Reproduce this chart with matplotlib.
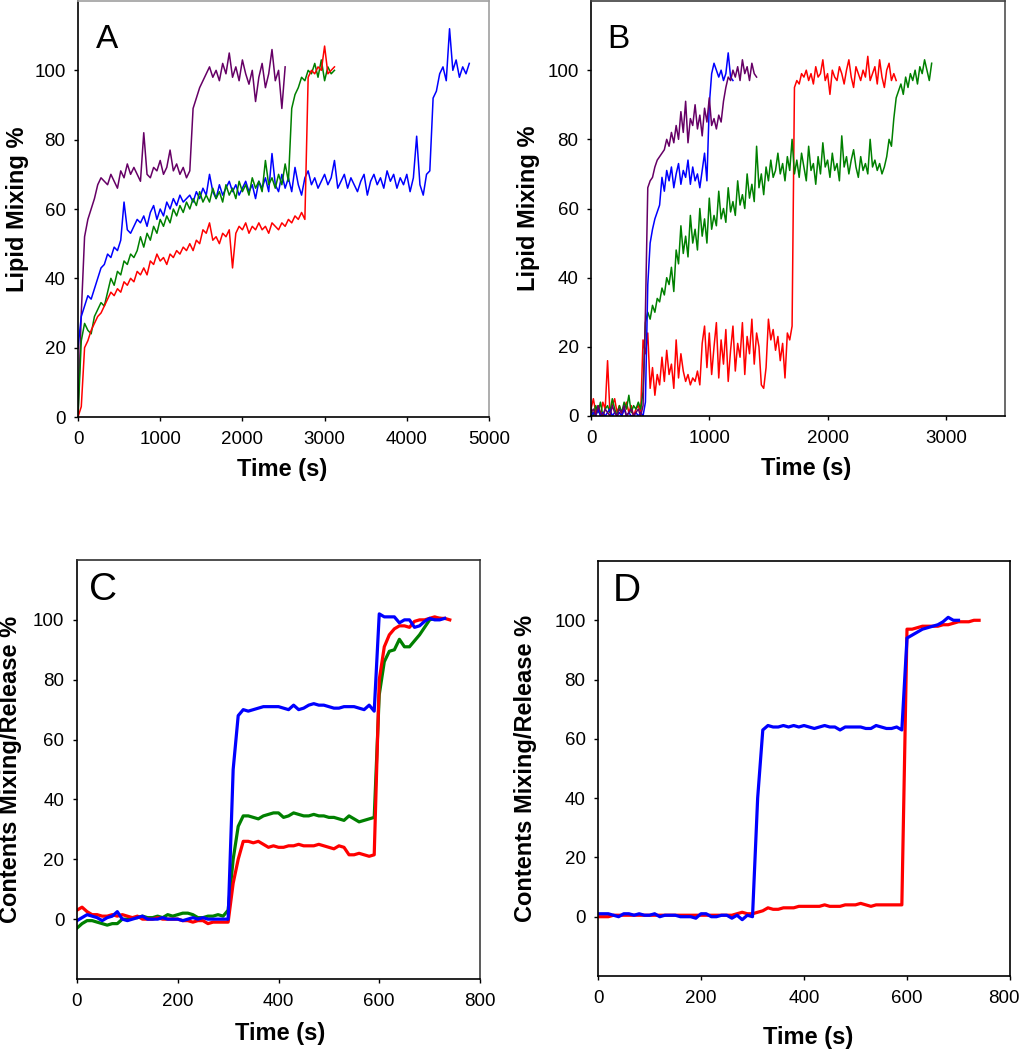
import numpy as np
import matplotlib
matplotlib.use("Agg")
from matplotlib import pyplot as plt
from matplotlib import transforms

#==================== DATA ====================
# panel A: lipid mixing, sampled every 40 s
dtA = 40
a_blue = [20, 29, 32, 35, 34, 37, 40, 43, 44, 47,
          46, 49, 48, 51, 62, 54, 53, 55, 57, 56,
          58, 55, 59, 61, 57, 60, 58, 62, 60, 63,
          61, 64, 62, 63, 64, 62, 65, 63, 66, 64,
          70, 65, 63, 67, 64, 66, 68, 65, 67, 64,
          66, 68, 65, 67, 63, 68, 66, 69, 65, 76,
          67, 65, 70, 66, 69, 65, 72, 67, 64, 69,
          71, 67, 69, 66, 68, 70, 67, 69, 74, 66,
          68, 70, 66, 69, 67, 65, 68, 70, 64, 68,
          70, 67, 69, 66, 71, 68, 70, 66, 69, 67,
          70, 65, 69, 81, 67, 64, 70, 71, 92, 94,
          99, 101, 97, 112, 100, 103, 98, 101, 99, 102]
a_green = [0, 22, 27, 25, 24, 29, 31, 33, 32, 36,
           40, 38, 42, 41, 45, 44, 47, 46, 48, 52,
           49, 53, 51, 55, 53, 57, 55, 58, 56, 60,
           58, 61, 59, 62, 60, 63, 61, 65, 62, 64,
           62, 66, 63, 65, 62, 67, 64, 66, 63, 68,
           65, 67, 64, 69, 66, 68, 65, 74, 67, 69,
           66, 70, 67, 73, 68, 89, 93, 95, 98, 97,
           100, 99, 102, 98, 103, 97, 101, 99, 100]
a_red = [0, 3, 20, 22, 25, 27, 29, 30, 32, 34,
         36, 35, 37, 36, 39, 38, 40, 39, 42, 41,
         43, 41, 45, 44, 47, 45, 46, 44, 47, 46,
         48, 47, 49, 48, 50, 48, 51, 50, 54, 53,
         56, 51, 52, 50, 53, 52, 54, 43, 53, 55,
         54, 56, 53, 55, 54, 56, 54, 55, 53, 56,
         55, 54, 56, 55, 57, 56, 58, 57, 59, 57,
         98, 100, 99, 101, 100, 107, 99, 100, 101]
a_purple = [0, 30, 52, 57, 60, 63, 67, 69, 68, 67,
            70, 68, 66, 71, 69, 73, 70, 72, 70, 68,
            82, 70, 69, 72, 71, 74, 70, 72, 77, 71,
            73, 70, 72, 69, 71, 89, 92, 95, 97, 99,
            101, 98, 100, 97, 102, 99, 105, 98, 101, 97,
            103, 99, 96, 100, 91, 98, 102, 95, 99, 106,
            97, 100, 89, 101]

# panel B: lipid mixing, sampled every 20 s
dtB = 20
b_purple = [1, 2, 0, 3, 1, 0, 2, 1, 0, 3,
            1, 0, 2, 1, 3, 0, 1, 2, 0, 1,
            2, 0, 3, 30, 66, 68, 69, 72, 74, 75,
            76, 77, 80, 78, 82, 79, 84, 80, 88, 82,
            91, 79, 86, 84, 90, 83, 87, 81, 89, 85,
            92, 84, 86, 83, 87, 85, 91, 95, 98, 97,
            100, 98, 101, 97, 103, 99, 101, 97, 102, 99,
            98]
b_blue = [0, 1, 0, 2, 0, 1, 0, 1, 2, 0,
          1, 0, 1, 0, 2, 0, 1, 0, 0, 1,
          0, 1, 0, 4, 38, 50, 54, 57, 59, 61,
          69, 65, 71, 68, 72, 66, 70, 73, 67, 71,
          69, 74, 67, 72, 68, 70, 66, 71, 76, 68,
          90, 99, 102, 100, 98, 100, 97, 99, 105, 98,
          97]
b_green = [2, 0, 3, 1, 4, 0, 2, 3, 1, 5,
           2, 0, 3, 1, 4, 2, 6, 1, 3, 2,
           4, 2, 7, 27, 30, 28, 32, 30, 34, 33,
           37, 35, 40, 38, 43, 36, 48, 44, 55, 47,
           52, 46, 58, 50, 54, 48, 60, 52, 57, 50,
           63, 54, 58, 55, 65, 57, 60, 56, 66, 59,
           62, 58, 68, 61, 64, 60, 70, 63, 67, 62,
           78, 66, 70, 64, 72, 68, 74, 69, 71, 76,
           70, 73, 68, 75, 71, 80, 70, 74, 69, 76,
           72, 68, 78, 71, 73, 67, 75, 70, 79, 72,
           74, 69, 76, 71, 73, 68, 81, 72, 75, 70,
           74, 77, 72, 69, 75, 71, 73, 70, 80, 72,
           74, 71, 73, 70, 72, 75, 80, 78, 86, 92,
           94, 96, 93, 98, 95, 99, 97, 100, 96, 101,
           99, 103, 100, 97, 102]
b_red = [2, 5, 1, 3, 0, 4, 2, 16, 1, 3,
         5, 1, 3, 0, 2, 4, 1, 3, 0, 2,
         3, 1, 22, 18, 24, 8, 14, 6, 12, 9,
         17, 10, 19, 12, 15, 8, 22, 11, 18, 13,
         10, 12, 9, 11, 10, 13, 9, 21, 26, 14,
         24, 12, 20, 27, 11, 22, 15, 25, 10, 19,
         26, 13, 21, 17, 27, 12, 23, 18, 28, 15,
         24, 20, 9, 8, 14, 28, 22, 25, 19, 23,
         16, 21, 11, 24, 22, 26, 95, 97, 96, 99,
         98, 100, 97, 99, 96, 101, 98, 99, 103, 97,
         99, 93, 100, 98, 97, 101, 99, 96, 100, 103,
         98, 95, 101, 99, 97, 100, 98, 104, 97, 99,
         101, 96, 103, 98, 95, 100, 102, 97, 99, 97]

# panels C and D: contents mixing / release, sampled every 10 s
dtC = 10
c_red = [3, 4, 2.5, 1.5, 1.5, 1, 1, 1.5, 1, 1.5,
         1, 0.5, 1, 0, 0, 0, 0.5, 0, 0, 0,
         0, -0.5, -0.5, -1, -0.5, -0.5, -1.5, -1, -1, -1,
         -1, 12, 20, 26, 26, 25.5, 26, 25, 24, 24.5,
         24, 24, 24.5, 24.5, 25, 24.5, 24.5, 24.5, 25, 24.5,
         24, 23.5, 24.5, 24, 21.5, 21.5, 22, 21.5, 21, 21.5,
         80, 91, 95, 97, 98, 98, 97.5, 99.5, 100, 100,
         100.5, 101, 100.5, 100.5, 100]
c_green = [-3, -1.5, -0.5, -0.5, -1, -1.5, -2, -1.5, -1.5, 0,
           0, 0.5, 0.5, 1, 0.5, 0.5, 1, 0.5, 1.5, 1,
           1.5, 2, 2, 1.5, 0.5, 0.5, 1, 1, 1.5, 1,
           3, 20, 31, 34.5, 34.5, 34, 33.5, 34.5, 35, 35.5,
           35.5, 34, 34.5, 35.5, 35, 34.5, 34.5, 35, 34.5, 34.5,
           34, 34, 33.5, 33, 34.5, 33.5, 32.5, 33, 33.5, 34,
           75, 86, 89.5, 90, 93.5, 91, 91, 93, 95, 97.5,
           100, 100.5, 100.5]
c_blue = [-0.5, 0.5, 1.5, 1, 0.5, -0.5, 0.5, 1, 2.5, 0,
          -0.5, 0, 0.5, 1, 0, 0, 0, 0.5, 0, 0,
          0, -0.5, 0, 0.5, 0, 0.5, 0, 0, 0, 0,
          0, 50, 68, 70, 69.5, 70, 70.5, 71, 71, 71,
          71, 70.5, 70, 71.5, 70, 70.5, 71.5, 72, 71.5, 71.5,
          71, 70.5, 70.5, 71, 71, 71, 70.5, 70, 71.5, 69.5,
          102, 101, 101, 101, 99, 100, 100, 97.5, 98, 99.5,
          100.5, 100, 100, 100.5]
d_red = [0, 0, 0, 0.5, 0.5, 0.5, 0.5, 0.5, 0.5, 0.5,
         0.5, 0.5, 0.5, 0.5, 0.5, 0.5, 0.5, 0.5, 0.5, 0.5,
         0.5, 0.5, 0.5, 0.5, 0.5, 0.5, 0.5, 1, 1.5, 1,
         1, 1.5, 2, 3, 2.5, 2.5, 3, 3, 3, 3.5,
         3.5, 3.5, 3.5, 3.5, 4, 3.5, 3.5, 3.5, 4, 4,
         4, 4.5, 4, 3.5, 4, 4, 4, 4, 4, 4,
         97, 97, 97.5, 98, 98, 98, 98, 98.5, 98.5, 99,
         99.5, 99.5, 99.5, 100, 100]
d_blue = [1, 1, 1, 0.5, 0, 1, 1, 0.5, 1, 0.5,
          0.5, 1, 0, 0.5, 0.5, 0.5, 0, 0, 0, -0.5,
          1, 1, 0, 0, 0.5, 0.5, -0.5, 0.5, -1, 0.5,
          0, 40, 63, 64.5, 64, 64, 64.5, 64, 64.5, 64,
          64.5, 64, 63.5, 64, 64.5, 64, 64, 63, 64, 64,
          64, 64, 63.5, 63.5, 64.5, 64, 63.5, 63.5, 64, 63,
          94, 95, 96, 97, 97.5, 98, 98.5, 99.5, 101, 100,
          100]

RED = "#ff0000"
GREEN = "#008000"
BLUE = "#0000ff"
PURPLE = "#660066"

def times(vals, dt):
    return np.arange(len(vals)) * dt

#==================== FIGURE ====================
plt.rcParams['font.family'] = ['Liberation Sans', 'DejaVu Sans']
fig = plt.figure(figsize=(10.22, 10.5), dpi=100)
W, H = 1022.0, 1050.0

def make_ax(l, t, r, b):
    return fig.add_axes([l / W, 1 - b / H, (r - l) / W, (b - t) / H])

axA = make_ax(78, 1, 489, 417)
axB = make_ax(591, 1, 1005, 416)
axC = make_ax(77, 560, 480, 979)
axD = make_ax(598, 561, 1010, 976)

# panel A
axA.plot(times(a_purple, dtA), a_purple, color=PURPLE, lw=1.1)
axA.plot(times(a_blue, dtA), a_blue, color=BLUE, lw=1.1)
axA.plot(times(a_green, dtA), a_green, color=GREEN, lw=1.1)
axA.plot(times(a_red, dtA), a_red, color=RED, lw=1.1)
axA.set_xlim(0, 5000)
axA.set_ylim(0, 120)
axA.set_xticks([0, 1000, 2000, 3000, 4000, 5000])

# panel B
axB.plot(times(b_red, dtB), b_red, color=RED, lw=1.1)
axB.plot(times(b_green, dtB), b_green, color=GREEN, lw=1.1)
axB.plot(times(b_blue, dtB), b_blue, color=BLUE, lw=1.1)
axB.plot(times(b_purple, dtB), b_purple, color=PURPLE, lw=1.1)
axB.set_xlim(0, 3500)
axB.set_ylim(0, 120)
axB.set_xticks([0, 1000, 2000, 3000])

# panel C
axC.plot(times(c_green, dtC), c_green, color=GREEN, lw=2.3)
axC.plot(times(c_red, dtC), c_red, color=RED, lw=2.3)
axC.plot(times(c_blue, dtC), c_blue, color=BLUE, lw=2.3)
axC.set_xlim(0, 800)
axC.set_ylim(-20, 120)

# panel D
axD.plot(times(d_red, dtC), d_red, color=RED, lw=2.3)
axD.plot(times(d_blue, dtC), d_blue, color=BLUE, lw=2.3)
axD.set_xlim(0, 800)
axD.set_ylim(-20, 120)

for ax in (axC, axD):
    ax.set_xticks([0, 200, 400, 600, 800])

for ax in (axA, axB, axC, axD):
    ax.set_yticks([0, 20, 40, 60, 80, 100])
    ax.tick_params(axis='both', direction='out', length=3, width=1, labelsize=13.5)
    ax.tick_params(axis='y', pad=6)
    ax.tick_params(axis='x', pad=7)
    ax.set_xlabel("Time (s)", fontsize=17, fontweight='bold')
    for s in ax.spines.values():
        s.set_linewidth(1.2)

axA.set_ylabel("Lipid Mixing %", fontsize=17, fontweight='bold')
axB.set_ylabel("Lipid Mixing %", fontsize=17, fontweight='bold')
axC.set_ylabel("Contents Mixing/Release %", fontsize=17, fontweight='bold')
axD.set_ylabel("Contents Mixing/Release %", fontsize=17, fontweight='bold')

# spine shades
axA.spines['top'].set_color('#a0a0a0')
axA.spines['right'].set_color('#a0a0a0')
axB.spines['top'].set_color('#404040')
axB.spines['right'].set_color('#505050')
axC.spines['top'].set_color('#303030')
axC.spines['right'].set_color('#404040')

# label positions (axes coords)
lab = {axA: (-0.148, 0.496, -0.127), axB: (-0.152, 0.52, -0.127),
       axC: (-0.166, 0.504, -0.129), axD: (-0.175, 0.51, -0.147)}
for ax, (yx, xx, xy) in lab.items():
    ax.yaxis.set_label_coords(yx, 0.5)
    ax.yaxis.label.set_va('center')
    ax.xaxis.set_label_coords(xx, xy)
    ax.xaxis.label.set_va('center')

# last tick label of D sits a bit left of its tick (keeps it inside the figure)
fig.canvas.draw()
lastD = axD.get_xticklabels()[-1]
lastD.set_transform(lastD.get_transform() + transforms.ScaledTranslation(-6 / 100, 0, fig.dpi_scale_trans))

# panel letters
fig.text(96 / W, 1 - 48 / H, "A", fontsize=24, va='baseline', ha='left')
fig.text(607 / W, 1 - 48 / H, "B", fontsize=24, va='baseline', ha='left')
fig.text(89 / W, 1 - 600 / H, "C", fontsize=28, va='baseline', ha='left')
fig.text(613 / W, 1 - 601 / H, "D", fontsize=28, va='baseline', ha='left')

fig.savefig("out.png", dpi=100)
